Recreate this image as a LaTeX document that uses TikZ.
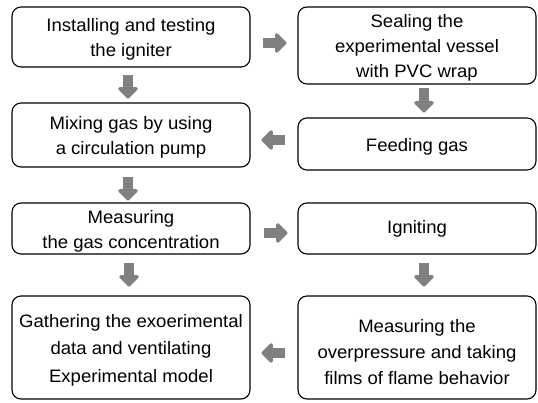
\documentclass[tikz,border=0pt]{standalone}
\usepackage{fontspec}
\setmainfont{Liberation Sans}[FakeStretch=1.03]
\usetikzlibrary{arrows.meta,calc}
\definecolor{arrowgray}{RGB}{128,128,128}
\newcommand\topst[1][18pt]{\rule{0pt}{#1}}
\begin{document}
\begin{tikzpicture}[x=1pt,y=-1pt,
  box/.style={draw=black, line width=1.1pt, rounded corners=9pt, align=center,
    inner sep=0pt, minimum width=238pt, font=\fontsize{18}{25}\selectfont},
  blk/.style={draw=arrowgray, line width=9.5pt,
    -{Triangle[width=23pt,length=12pt,round]}}]
\useasboundingbox (0,0) rectangle (538,402);
\node[box, minimum height=60pt] (A) at (131,37) {\topst Installing and testing\\the igniter};
\node[box, minimum height=77pt] (B) at (417,45.5) {\topst Sealing the\\experimental vessel\\with PVC wrap};
\node[box, minimum height=52pt] (C) at (417,144) {\topst Feeding gas};
\node[box, minimum height=64pt] (D) at (131,135) {\topst Mixing gas by using\\a circulation pump};
\node[box, minimum height=51pt] (E) at (131,228.5) {\topst Measuring\\the gas concentration};
\node[box, minimum height=51pt] (F) at (417,228.5) {Igniting};
\node[box, minimum height=103pt, font=\fontsize{18}{27.5}\selectfont] (G) at (131,347.5) {\topst Gathering the exoerimental\\data and ventilating\\Experimental model};
\node[box, minimum height=103pt, font=\fontsize{18}{26}\selectfont] (H) at (417,347.5) {\topst[22pt]Measuring the\\overpressure and taking\\films of flame behavior};
\draw[blk] ($(A.east)+(12,6)$) -- ++(24,0);
\draw[blk] ($(A.south)+(-3,7)$) -- ++(0,24);
\draw[blk] ($(B.south)+(7,3)$) -- ++(0,25);
\draw[blk] ($(C.west)+(-12,-4)$) -- ++(-24,0);
\draw[blk] ($(D.south)+(-3,9)$) -- ++(0,24);
\draw[blk] ($(E.east)+(13,4.5)$) -- ++(24,0);
\draw[blk] ($(E.south)+(-2,8)$) -- ++(0,24);
\draw[blk] ($(F.south)+(7,8)$) -- ++(0,24);
\draw[blk] ($(H.west)+(-12,5.5)$) -- ++(-24,0);
\end{tikzpicture}
\end{document}
